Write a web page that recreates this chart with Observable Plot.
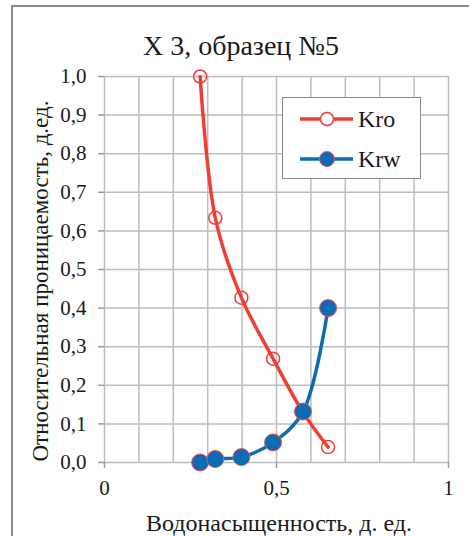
<!DOCTYPE html>
<html>
<head>
<meta charset="utf-8">
<script src="https://cdn.jsdelivr.net/npm/d3@7"></script>
<script src="https://cdn.jsdelivr.net/npm/@observablehq/plot@0.6"></script>
<style>
  html, body { margin: 0; padding: 0; background: #fff; }
  #wrap, #wrap * { font-family: 'Liberation Serif', serif; }
  #wrap { position: relative; width: 469px; height: 536px; overflow: hidden; color: #1a1a1a; }
  #frame { position: absolute; left: 11px; top: 5px; width: 480px; height: 560px; border: 2px solid #8a8a8a; box-sizing: border-box; }
  #chart { position: absolute; left: 0; top: 0; }
  .lbl { position: absolute; white-space: nowrap; line-height: 1; }
  #title { left: 241px; top: 32px; font-size: 28px; transform: translateX(-50%); }
  #ylabel { left: 40px; top: 281px; font-size: 23px; transform: translate(-50%, -50%) rotate(-90deg); }
  #xlabel { left: 279px; top: 511px; font-size: 24px; transform: translateX(-50%); }
  #legend { position: absolute; left: 282px; top: 97px; width: 139px; height: 82px; box-sizing: border-box; border: 1.5px solid #8a8a8a; background: #fff; }
</style>
</head>
<body>
<div id="wrap">
  <div id="frame"></div>
  <div id="chart"></div>
  <div id="title" class="lbl"></div>
  <div id="ylabel" class="lbl"></div>
  <div id="xlabel" class="lbl"></div>
  <div id="legend"></div>
</div>
<script>
// ---- data ----
const titleText = "X 3, образец №5";
const xTitle = "Водонасыщенность, д. ед.";
const yTitle = "Относительная проницаемость, д.ед.";
const seriesNames = ["Kro", "Krw"];
const sw  = [0.278, 0.322, 0.398, 0.490, 0.577, 0.650];
const kro = [1.000, 0.634, 0.427, 0.269, 0.130, 0.040];
const krw = [0.000, 0.009, 0.014, 0.052, 0.132, 0.400];
const xTicks = [0, 0.5, 1];
const xGrid = [0, 0.1, 0.2, 0.3, 0.4, 0.5, 0.6, 0.7, 0.8, 0.9, 1.0];
const yTicks = [0, 0.1, 0.2, 0.3, 0.4, 0.5, 0.6, 0.7, 0.8, 0.9, 1.0];

const RED = "#EF3E36";
const BLUE = "#0B6CB5";
const FONT = "'Liberation Serif', serif";

const kroData = sw.map((x, i) => ({x, y: kro[i]}));
const krwData = sw.map((x, i) => ({x, y: krw[i]}));
const fmtX = d => (Number.isInteger(d) ? String(d) : String(d).replace(".", ","));
const fmtY = d => d.toFixed(1).replace(".", ",");

const chart = Plot.plot({
  width: 469,
  height: 536,
  marginLeft: 104,
  marginRight: 21,
  marginTop: 76,
  marginBottom: 74,
  style: { fontFamily: FONT, fontSize: "21px", color: "#1a1a1a", background: "transparent" },
  x: { domain: [0, 1] },
  y: { domain: [0, 1] },
  marks: [
    Plot.gridX(xGrid, { stroke: "#bdbdbd", strokeOpacity: 1, strokeWidth: 1.5 }),
    Plot.gridY(yTicks, { stroke: "#bdbdbd", strokeOpacity: 1, strokeWidth: 1.5 }),
    Plot.axisX(xTicks, { tickFormat: fmtX, tickSize: 6, tickPadding: 12, stroke: "#9a9a9a", strokeWidth: 1.5, fontSize: 21, label: null }),
    Plot.axisY(yTicks, { tickFormat: fmtY, tickSize: 6, tickPadding: 12, stroke: "#9a9a9a", strokeWidth: 1.5, fontSize: 21, label: null }),
    Plot.line(kroData, { x: "x", y: "y", stroke: RED, strokeWidth: 3.5, curve: "catmull-rom", alpha: 0 }),
    Plot.dot(kroData, { x: "x", y: "y", r: 6.5, stroke: RED, strokeWidth: 1.5, fill: "none" }),
    Plot.line(krwData, { x: "x", y: "y", stroke: BLUE, strokeWidth: 3.5, curve: "catmull-rom", alpha: 0 }),
    Plot.dot(krwData, { x: "x", y: "y", r: 8.5, fill: BLUE, stroke: "#F05050", strokeWidth: 1 })
  ]
});
document.getElementById("chart").appendChild(chart);
document.getElementById("title").textContent = titleText;
document.getElementById("xlabel").textContent = xTitle;
document.getElementById("ylabel").textContent = yTitle;

// legend
const ns = "http://www.w3.org/2000/svg";
const lg = document.createElementNS(ns, "svg");
lg.setAttribute("width", 136);
lg.setAttribute("height", 79);
const entries = [
  { name: seriesNames[0], color: RED, hollow: true, cy: 21 },
  { name: seriesNames[1], color: BLUE, hollow: false, cy: 61 }
];
for (const e of entries) {
  const ln = document.createElementNS(ns, "line");
  ln.setAttribute("x1", 17); ln.setAttribute("x2", 70);
  ln.setAttribute("y1", e.cy); ln.setAttribute("y2", e.cy);
  ln.setAttribute("stroke", e.color); ln.setAttribute("stroke-width", 3.5);
  lg.appendChild(ln);
  const c = document.createElementNS(ns, "circle");
  c.setAttribute("cx", 44); c.setAttribute("cy", e.cy);
  if (e.hollow) {
    c.setAttribute("r", 6.5); c.setAttribute("fill", "#fff"); c.setAttribute("stroke", RED); c.setAttribute("stroke-width", 1.5);
  } else {
    c.setAttribute("r", 7.5); c.setAttribute("fill", BLUE); c.setAttribute("stroke", "#F05050"); c.setAttribute("stroke-width", 1);
  }
  lg.appendChild(c);
  const t = document.createElementNS(ns, "text");
  t.setAttribute("x", 75); t.setAttribute("y", e.cy + 8);
  t.style.fontFamily = FONT;
  t.setAttribute("font-size", 24);
  t.setAttribute("fill", "#1a1a1a");
  t.textContent = e.name;
  lg.appendChild(t);
}
document.getElementById("legend").appendChild(lg);
</script>
</body>
</html>
